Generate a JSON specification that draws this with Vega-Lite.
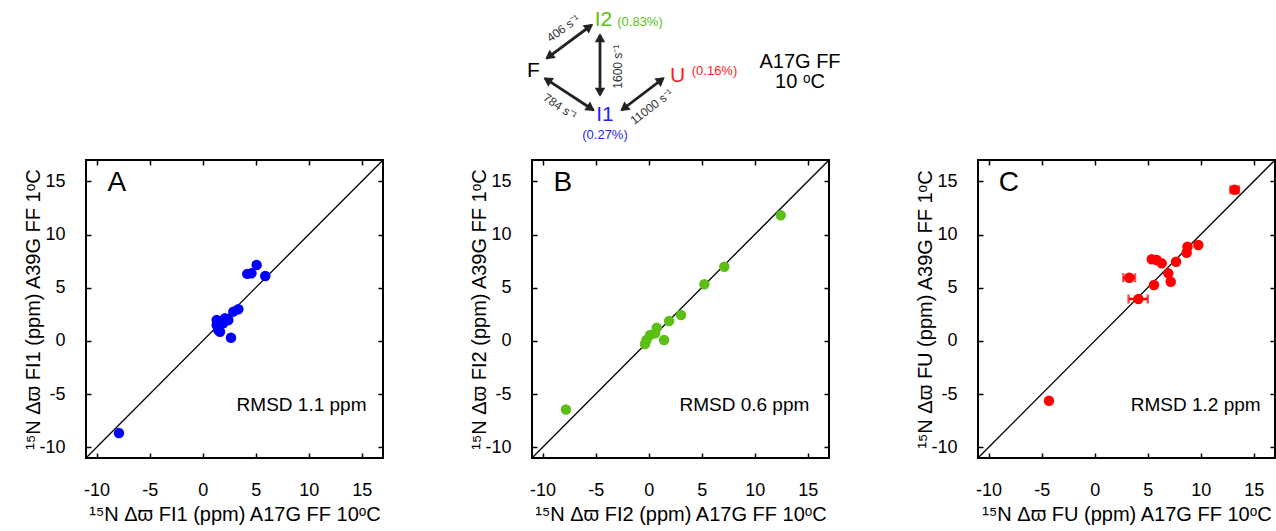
{
  "$schema": "https://vega.github.io/schema/vega-lite/v6.json",
  "autosize": {"type": "pad"},
  "padding": {"left": 22, "top": 0, "right": 0, "bottom": 0},
  "background": "white",
  "bounds": "flush",
  "spacing": 0,
  "datasets": {
    "diag": [{"v": -11}, {"v": 17}],
    "A": [
      {"x": 5.09, "y": 7.13}, {"x": 4.2, "y": 6.3}, {"x": 4.6, "y": 6.35}, {"x": 5.9, "y": 6.1},
      {"x": 3.36, "y": 2.97}, {"x": 2.89, "y": 2.75}, {"x": 2.1, "y": 2.12}, {"x": 1.63, "y": 1.8},
      {"x": 1.32, "y": 1.49}, {"x": 1.47, "y": 1.02}, {"x": 2.42, "y": 1.96}, {"x": 1.94, "y": 1.65},
      {"x": 2.67, "y": 0.3}, {"x": 1.32, "y": 1.96}, {"x": 1.63, "y": 0.86}, {"x": -7.89, "y": -8.66}
    ],
    "B": [
      {"x": 12.45, "y": 11.8}, {"x": 7.13, "y": 6.97}, {"x": 5.25, "y": 5.32}, {"x": 3.05, "y": 2.43},
      {"x": 1.93, "y": 1.87}, {"x": 0.76, "y": 1.24}, {"x": 0.13, "y": 0.55}, {"x": 1.45, "y": 0.08},
      {"x": -0.35, "y": -0.29}, {"x": -0.2, "y": 0.08}, {"x": 0.6, "y": 0.71}, {"x": -7.8, "y": -6.45}
    ],
    "C": [
      {"x": 13.2, "y": 14.2}, {"x": 9.77, "y": 9.01}, {"x": 8.75, "y": 8.85}, {"x": 8.67, "y": 8.29},
      {"x": 7.67, "y": 7.44}, {"x": 6.32, "y": 7.29}, {"x": 5.38, "y": 7.67}, {"x": 5.85, "y": 7.6},
      {"x": 6.94, "y": 6.35}, {"x": 7.17, "y": 5.56}, {"x": 3.26, "y": 5.94}, {"x": 5.59, "y": 5.25},
      {"x": 4.12, "y": 3.94}, {"x": -4.31, "y": -5.62}
    ],
    "errC": [
      {"y": 3.94, "lo": 3.2, "hi": 5.0},
      {"y": 5.94, "lo": 2.7, "hi": 3.8},
      {"y": 14.2, "lo": 12.8, "hi": 13.6}
    ],
    "labA": [{"x": -8.1, "y": 14.85, "t": "A"}],
    "labB": [{"x": -8.1, "y": 14.85, "t": "B"}],
    "labC": [{"x": -8.1, "y": 14.85, "t": "C"}],
    "rmsdA": [{"x": 3.2, "y": -6.0, "t": "RMSD 1.1 ppm"}],
    "rmsdB": [{"x": 2.9, "y": -6.0, "t": "RMSD 0.6 ppm"}],
    "rmsdC": [{"x": 3.4, "y": -6.0, "t": "RMSD 1.2 ppm"}],
    "shafts": [
      {"x": 46.07, "y": 5.83, "x2": 50.57, "y2": 2.5},
      {"x": 51.4, "y": 3.5, "x2": 51.4, "y2": 9.5},
      {"x": 45.9, "y": 7.83, "x2": 50.73, "y2": 11.0},
      {"x": 53.57, "y": 11.0, "x2": 57.73, "y2": 7.83}
    ],
    "heads": [
      {"x": 50.22, "y": 2.76, "ang": 53.5}, {"x": 46.42, "y": 5.57, "ang": 233.5},
      {"x": 51.4, "y": 3.93, "ang": 0}, {"x": 51.4, "y": 9.07, "ang": 180},
      {"x": 50.37, "y": 10.76, "ang": 123.3}, {"x": 46.26, "y": 8.07, "ang": 303.3},
      {"x": 57.39, "y": 8.09, "ang": 52.7}, {"x": 53.91, "y": 10.74, "ang": 232.7}
    ],
    "species": [
      {"x": 44.75, "y": 7.05, "t": "F", "c": "F"},
      {"x": 51.75, "y": 1.95, "t": "I2", "c": "I2"},
      {"x": 59.15, "y": 7.57, "t": "U", "c": "U"},
      {"x": 51.9, "y": 11.5, "t": "I1", "c": "I1"}
    ],
    "pops": [
      {"x": 55.4, "y": 2.15, "t": "(0.83%)", "c": "I2"},
      {"x": 62.85, "y": 7.1, "t": "(0.16%)", "c": "U"},
      {"x": 51.9, "y": 13.45, "t": "(0.27%)", "c": "I1"}
    ],
    "rates": [
      {"x": 47.73, "y": 2.83, "t": "406 s⁻¹", "a": 324},
      {"x": 53.23, "y": 6.67, "t": "1600 s⁻¹", "a": 270},
      {"x": 47.4, "y": 10.67, "t": "784 s⁻¹", "a": 34},
      {"x": 56.57, "y": 10.67, "t": "11000 s⁻¹", "a": 323}
    ],
    "cond": [
      {"x": 71.4, "y": 6.17, "t": "A17G FF"},
      {"x": 71.4, "y": 8.17, "t": "10 ᵒC"}
    ]
  },
  "vconcat": [
    {
      "width": 1190,
      "height": 160,
      "view": {"stroke": null},
      "layer": [
        {
          "data": {"name": "shafts"},
          "mark": {"type": "rule", "color": "#222222", "strokeWidth": 2.8},
          "encoding": {
            "x": {"field": "x", "type": "quantitative", "scale": {"domain": [0, 119], "nice": false, "zero": false}, "axis": null},
            "y": {"field": "y", "type": "quantitative", "scale": {"domain": [0, 16], "reverse": true, "nice": false, "zero": false}, "axis": null},
            "x2": {"field": "x2"},
            "y2": {"field": "y2"}
          }
        },
        {
          "data": {"name": "heads"},
          "mark": {"type": "point", "shape": "triangle", "filled": true, "size": 110, "color": "#222222", "opacity": 1},
          "encoding": {
            "x": {"field": "x", "type": "quantitative", "axis": null},
            "y": {"field": "y", "type": "quantitative", "axis": null},
            "angle": {"field": "ang", "type": "quantitative", "scale": null}
          }
        },
        {
          "data": {"name": "species"},
          "mark": {"type": "text", "fontSize": 21, "font": "Liberation Sans", "baseline": "middle", "align": "center"},
          "encoding": {
            "x": {"field": "x", "type": "quantitative", "axis": null},
            "y": {"field": "y", "type": "quantitative", "axis": null},
            "text": {"field": "t"},
            "color": {"field": "c", "type": "nominal", "legend": null, "scale": {"domain": ["F", "I1", "I2", "U"], "range": ["#000000", "#1f1fff", "#5cbf16", "#ff1a1a"]}}
          }
        },
        {
          "data": {"name": "pops"},
          "mark": {"type": "text", "fontSize": 13, "font": "Liberation Sans", "baseline": "middle", "align": "center"},
          "encoding": {
            "x": {"field": "x", "type": "quantitative", "axis": null},
            "y": {"field": "y", "type": "quantitative", "axis": null},
            "text": {"field": "t"},
            "color": {"field": "c", "type": "nominal", "legend": null, "scale": {"domain": ["F", "I1", "I2", "U"], "range": ["#000000", "#1f1fff", "#5cbf16", "#ff1a1a"]}}
          }
        },
        {
          "data": {"name": "rates"},
          "mark": {"type": "text", "fontSize": 12, "font": "Liberation Sans", "baseline": "middle", "align": "center", "color": "#333333"},
          "encoding": {
            "x": {"field": "x", "type": "quantitative", "axis": null},
            "y": {"field": "y", "type": "quantitative", "axis": null},
            "text": {"field": "t"},
            "angle": {"field": "a", "type": "quantitative", "scale": null}
          }
        },
        {
          "data": {"name": "cond"},
          "mark": {"type": "text", "fontSize": 20, "font": "Liberation Sans", "baseline": "middle", "align": "center", "color": "#000000"},
          "encoding": {
            "x": {"field": "x", "type": "quantitative", "axis": null},
            "y": {"field": "y", "type": "quantitative", "axis": null},
            "text": {"field": "t"}
          }
        }
      ]
    },
    {
      "bounds": "flush",
      "spacing": 149,
      "hconcat": [
        {
          "width": 297, "height": 298,
          "resolve": {"axis": {"x": "independent", "y": "independent"}},
          "layer": [
            {
              "data": {"name": "diag"},
              "mark": {"type": "line", "color": "black", "strokeWidth": 1.3, "clip": true},
              "encoding": {
                "x": {"field": "v", "type": "quantitative", "scale": {"domain": [-11, 17], "nice": false, "zero": false}, "axis": {"orient": "top", "labels": false, "title": null}},
                "y": {"field": "v", "type": "quantitative", "scale": {"domain": [-11, 17], "nice": false, "zero": false}, "axis": {"orient": "right", "labels": false, "title": null}}
              }
            },
            {
              "data": {"name": "A"},
              "mark": {"type": "circle", "size": 110, "opacity": 1, "color": "#0000ff"},
              "encoding": {
                "x": {"field": "x", "type": "quantitative", "scale": {"domain": [-11, 17], "nice": false, "zero": false}, "axis": {"orient": "bottom", "title": "¹⁵N Δϖ FI1 (ppm) A17G FF 10ᵒC"}},
                "y": {"field": "y", "type": "quantitative", "scale": {"domain": [-11, 17], "nice": false, "zero": false}, "axis": {"orient": "left", "title": "¹⁵N Δϖ FI1 (ppm) A39G FF 1ᵒC"}}
              }
            },
            {
              "data": {"name": "labA"},
              "mark": {"type": "text", "fontSize": 28, "font": "Liberation Sans", "baseline": "middle", "align": "center", "color": "black"},
              "encoding": {
                "x": {"field": "x", "type": "quantitative", "axis": null},
                "y": {"field": "y", "type": "quantitative", "axis": null},
                "text": {"field": "t"}
              }
            },
            {
              "data": {"name": "rmsdA"},
              "mark": {"type": "text", "fontSize": 19, "font": "Liberation Sans", "baseline": "middle", "align": "left", "color": "black"},
              "encoding": {
                "x": {"field": "x", "type": "quantitative", "axis": null},
                "y": {"field": "y", "type": "quantitative", "axis": null},
                "text": {"field": "t"}
              }
            }
          ]
        },
        {
          "width": 297, "height": 298,
          "resolve": {"axis": {"x": "independent", "y": "independent"}},
          "layer": [
            {
              "data": {"name": "diag"},
              "mark": {"type": "line", "color": "black", "strokeWidth": 1.3, "clip": true},
              "encoding": {
                "x": {"field": "v", "type": "quantitative", "scale": {"domain": [-11, 17], "nice": false, "zero": false}, "axis": {"orient": "top", "labels": false, "title": null}},
                "y": {"field": "v", "type": "quantitative", "scale": {"domain": [-11, 17], "nice": false, "zero": false}, "axis": {"orient": "right", "labels": false, "title": null}}
              }
            },
            {
              "data": {"name": "B"},
              "mark": {"type": "circle", "size": 110, "opacity": 1, "color": "#5cbf16"},
              "encoding": {
                "x": {"field": "x", "type": "quantitative", "scale": {"domain": [-11, 17], "nice": false, "zero": false}, "axis": {"orient": "bottom", "title": "¹⁵N Δϖ FI2 (ppm) A17G FF 10ᵒC"}},
                "y": {"field": "y", "type": "quantitative", "scale": {"domain": [-11, 17], "nice": false, "zero": false}, "axis": {"orient": "left", "title": "¹⁵N Δϖ FI2 (ppm) A39G FF 1ᵒC"}}
              }
            },
            {
              "data": {"name": "labB"},
              "mark": {"type": "text", "fontSize": 28, "font": "Liberation Sans", "baseline": "middle", "align": "center", "color": "black"},
              "encoding": {
                "x": {"field": "x", "type": "quantitative", "axis": null},
                "y": {"field": "y", "type": "quantitative", "axis": null},
                "text": {"field": "t"}
              }
            },
            {
              "data": {"name": "rmsdB"},
              "mark": {"type": "text", "fontSize": 19, "font": "Liberation Sans", "baseline": "middle", "align": "left", "color": "black"},
              "encoding": {
                "x": {"field": "x", "type": "quantitative", "axis": null},
                "y": {"field": "y", "type": "quantitative", "axis": null},
                "text": {"field": "t"}
              }
            }
          ]
        },
        {
          "width": 297, "height": 298,
          "resolve": {"axis": {"x": "independent", "y": "independent"}},
          "layer": [
            {
              "data": {"name": "diag"},
              "mark": {"type": "line", "color": "black", "strokeWidth": 1.3, "clip": true},
              "encoding": {
                "x": {"field": "v", "type": "quantitative", "scale": {"domain": [-11, 17], "nice": false, "zero": false}, "axis": {"orient": "top", "labels": false, "title": null}},
                "y": {"field": "v", "type": "quantitative", "scale": {"domain": [-11, 17], "nice": false, "zero": false}, "axis": {"orient": "right", "labels": false, "title": null}}
              }
            },
            {
              "data": {"name": "errC"},
              "mark": {"type": "errorbar", "ticks": {"size": 9}, "color": "#ff0000", "thickness": 2.5},
              "encoding": {
                "x": {"field": "lo", "type": "quantitative", "axis": null},
                "x2": {"field": "hi"},
                "y": {"field": "y", "type": "quantitative", "axis": null}
              }
            },
            {
              "data": {"name": "C"},
              "mark": {"type": "circle", "size": 110, "opacity": 1, "color": "#ff0000"},
              "encoding": {
                "x": {"field": "x", "type": "quantitative", "scale": {"domain": [-11, 17], "nice": false, "zero": false}, "axis": {"orient": "bottom", "title": "¹⁵N Δϖ FU (ppm) A17G FF 10ᵒC"}},
                "y": {"field": "y", "type": "quantitative", "scale": {"domain": [-11, 17], "nice": false, "zero": false}, "axis": {"orient": "left", "title": "¹⁵N Δϖ FU (ppm) A39G FF 1ᵒC"}}
              }
            },
            {
              "data": {"name": "labC"},
              "mark": {"type": "text", "fontSize": 28, "font": "Liberation Sans", "baseline": "middle", "align": "center", "color": "black"},
              "encoding": {
                "x": {"field": "x", "type": "quantitative", "axis": null},
                "y": {"field": "y", "type": "quantitative", "axis": null},
                "text": {"field": "t"}
              }
            },
            {
              "data": {"name": "rmsdC"},
              "mark": {"type": "text", "fontSize": 19, "font": "Liberation Sans", "baseline": "middle", "align": "left", "color": "black"},
              "encoding": {
                "x": {"field": "x", "type": "quantitative", "axis": null},
                "y": {"field": "y", "type": "quantitative", "axis": null},
                "text": {"field": "t"}
              }
            }
          ]
        }
      ]
    }
  ],
  "config": {
    "font": "Liberation Sans",
    "view": {"stroke": "black", "strokeWidth": 2},
    "axis": {
      "grid": false,
      "domain": false,
      "values": [-10, -5, 0, 5, 10, 15],
      "labelExpr": "replace(datum.label, '−', '-')",
      "tickColor": "black",
      "tickSize": -5,
      "tickWidth": 1.5,
      "labelFont": "Liberation Sans",
      "labelFontSize": 18,
      "labelColor": "black",
      "titleFont": "Liberation Sans",
      "titleFontSize": 20,
      "titleFontWeight": "normal",
      "titleColor": "black"
    },
    "axisX": {"labelPadding": 28, "titlePadding": 5},
    "axisY": {"labelPadding": 26, "titlePadding": -5}
  }
}
